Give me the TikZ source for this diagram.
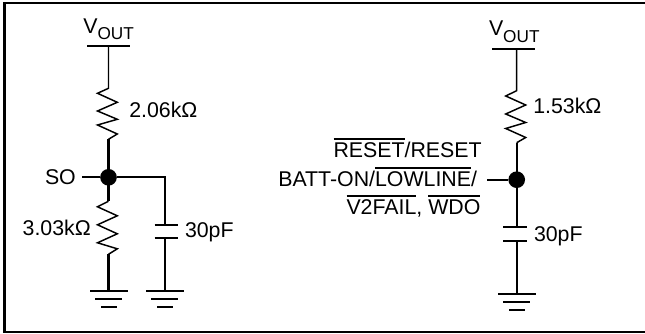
\documentclass[tikz,border=0pt]{standalone}
\usepackage{fontspec}
\setmainfont{Liberation Sans}
\newcommand\ovl[1]{\setbox0\hbox{#1}\rlap{\vrule width\wd0 height 14.6pt depth -13.2pt}#1}
\tikzset{
  x=0.75pt,y=-0.75pt,
  wire/.style={line width=1.7pt,line cap=butt},
  thinwire/.style={line width=1.1pt,line join=miter},
  frameline/.style={line width=2.1pt},
  lab/.style={inner sep=0pt,outer sep=0pt,anchor=base west,font=\fontsize{16pt}{18pt}\selectfont,text=black},
  junction/.style={circle,fill=black,inner sep=0pt,minimum size=12.5pt},
}
\newcommand\vout{V\raisebox{-5pt}{\fontsize{12.9pt}{13pt}\selectfont OUT}}
\begin{document}
\begin{tikzpicture}
\useasboundingbox (0,0) rectangle (645,334);
\draw[frameline] (645,3) -- (4.5,3) -- (4.5,332) -- (645,332);

% left circuit
\node[lab] (v1) at (83.3,33.3) {\vout};
\coordinate (v1bar) at (108.5,45.7);
\draw[wire] (87,45.7) -- (130,45.7);
\coordinate (r1t) at (108.5,88.3);
\coordinate (r1b) at (108.5,139.3);
\node[junction] (j1) at (108.5,177.3) {};
\draw[thinwire] (v1bar) -- (r1t) -- ++(-11,5) -- ++(19.8,9) -- ++(-19.8,8.7) -- ++(19.8,8.3) -- ++(-19.8,5.7) -- ++(19.8,9) -- (r1b);
\node[lab] at (129.3,117.3) {2.06kΩ};
\draw[wire] (r1b) -- (j1.center);
\node[lab] (so) at (45,184.3) {SO};
\coordinate (so1) at (82,177.3);
\draw[wire] (so1) -- (j1);
\coordinate (c1x) at (165,177.3);
\coordinate (c1t) at (165,224.7);
\coordinate (c1b) at (165,237.7);
\draw[wire] (j1) -- (c1x) -- (c1t);
\draw[wire] (154.5,224.7) -- (178,224.7);
\draw[wire] (154.5,237.7) -- (178,237.7);
\node[lab] at (185,237.7) {30pF};
\coordinate (g2) at (165,290.7);
\draw[wire] (c1b) -- (g2);
\draw[wire] (146,290.7) -- (184,290.7);
\draw[wire] (151,298.7) -- (178,298.7);
\draw[wire] (157,307) -- (173,307);

\coordinate (r2t) at (108.5,201.3);
\coordinate (r2b) at (108.5,254.3);
\draw[wire] (j1.center) -- (r2t);
\draw[thinwire] (r2t) -- ++(-11,5.5) -- ++(19.8,9) -- ++(-19.8,9) -- ++(19.8,9) -- ++(-19.8,9) -- ++(19.8,6) -- (r2b);
\node[lab] at (22.7,235.3) {3.03kΩ};
\coordinate (g1) at (108.5,290.7);
\draw[wire] (r2b) -- (g1);
\draw[wire] (90,290.7) -- (128,290.7);
\draw[wire] (95,298.7) -- (122,298.7);
\draw[wire] (101,307) -- (117,307);

% right circuit
\node[lab] (v2) at (489,36) {\vout};
\coordinate (v2bar) at (516.7,48.7);
\draw[wire] (492.3,48.7) -- (535,48.7);
\coordinate (r3t) at (516.7,90.7);
\coordinate (r3b) at (516.7,142.7);
\node[junction] (j2) at (516.7,179.7) {};
\draw[thinwire] (v2bar) -- (r3t) -- ++(-11,5.3) -- ++(20,9) -- ++(-20,9) -- ++(20,8.5) -- ++(-20,6) -- ++(20,9) -- (r3b);
\node[lab] at (533.3,113.3) {1.53kΩ};
\draw[wire] (r3b) -- (j2.center);
\node[lab] (l1) at (333.5,157.5) {\ovl{RESET}/RESET};
\node[lab] (l2) at (278.3,186.7) {BATT-ON/\ovl{LOWLINE}/};
\node[lab] (l3) at (346.5,214.3) {\ovl{V2FAIL}, \ovl{WDO}};
\coordinate (so2) at (487.3,179.7);
\draw[wire] (so2) -- (j2);
\coordinate (c2t) at (516.7,227);
\coordinate (c2b) at (516.7,240.7);
\draw[wire] (j2.center) -- (c2t);
\draw[wire] (503.3,227) -- (527,227);
\draw[wire] (503.3,240.7) -- (527,240.7);
\node[lab] at (534,242) {30pF};
\coordinate (g3) at (516.7,294);
\draw[wire] (c2b) -- (g3);
\draw[wire] (498,294) -- (536,294);
\draw[wire] (503,302) -- (530,302);
\draw[wire] (509,310) -- (525,310);
\end{tikzpicture}
\end{document}
